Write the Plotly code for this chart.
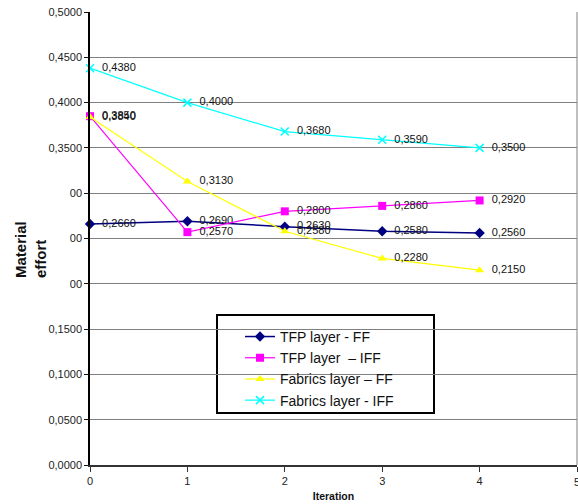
import plotly.graph_objects as go

iterations = [0, 1, 2, 3, 4]
tfp_ff = [0.2660, 0.2690, 0.2630, 0.2580, 0.2560]
tfp_iff = [0.3850, 0.2570, 0.2800, 0.2860, 0.2920]
fab_ff = [0.3840, 0.3130, 0.2580, 0.2280, 0.2150]
fab_iff = [0.4380, 0.4000, 0.3680, 0.3590, 0.3500]

series_names = ["TFP layer - FF", "TFP layer  \u2013 IFF", "Fabrics layer \u2013 FF", "Fabrics layer - IFF"]
series_colors = ["#000080", "#FF00FF", "#FFFF00", "#00FFFF"]
series_symbols = ["diamond", "square", "triangle-up", "x-thin"]

y_tickvals = [0.0, 0.05, 0.10, 0.15, 0.20, 0.25, 0.30, 0.35, 0.40, 0.45, 0.50]
y_ticktext = ["0,0000", "0,0500", "0,1000", "0,1500", "00", "00", "00", "0,3500", "0,4000", "0,4500", "0,5000"]
x_tickvals = [0, 1, 2, 3, 4]
x_last_tick = 5


def fmt(v):
    return f"{v:.4f}".replace(".", ",")


fig = go.Figure()
for name, vals, col, sym in zip(series_names, [tfp_ff, tfp_iff, fab_ff, fab_iff], series_colors, series_symbols):
    fig.add_trace(go.Scatter(
        x=iterations, y=vals, name=name, mode="lines+markers+text",
        line=dict(color=col, width=1.2 if col != "#000080" else 1.5),
        marker=dict(symbol=sym, size=8, color=col,
                    line=dict(color=col, width=1.5 if sym == "x-thin" else 0)),
        text=["  " + fmt(v) for v in vals], textposition="middle right",
        textfont=dict(family="Liberation Sans, Arial", size=11, color="#111111"),
        cliponaxis=False,
    ))

fig.update_layout(
    width=578, height=504,
    margin=dict(l=90, r=1, t=12, b=39),
    paper_bgcolor="white", plot_bgcolor="white",
    font=dict(family="Liberation Sans, Arial", size=11, color="#222222"),
    showlegend=True,
    legend=dict(x=0.308, y=0.318, xanchor="left", yanchor="top",
                bgcolor="rgba(0,0,0,0)", borderwidth=0,
                font=dict(size=14, color="#111111"), tracegroupgap=0),
    xaxis=dict(range=[0, 5], tickvals=x_tickvals + [x_last_tick], ticktext=[str(v) for v in x_tickvals] + [""],
               ticks="outside", ticklen=5,
               tickcolor="#333333", showgrid=False, zeroline=False,
               showline=True, linecolor="#333333", linewidth=2,
               mirror=False, tickfont=dict(size=11),
               title=dict(text="<b>Iteration</b>", font=dict(size=10.5, color="#111111"), standoff=6)),
    yaxis=dict(range=[0, 0.5], tickvals=y_tickvals, ticktext=y_ticktext, ticks="outside",
               ticklen=4, tickcolor="#111111", showgrid=True, gridcolor="#808080", gridwidth=1,
               zeroline=False, showline=True, linecolor="#000000", linewidth=1.5,
               tickfont=dict(size=11)),
    shapes=[
        dict(type="rect", xref="paper", yref="paper", x0=(217 - 90) / 487, x1=(434 - 90) / 487,
             y0=(465 - 413) / 453, y1=(465 - 315) / 453,
             line=dict(color="#000000", width=2), fillcolor="white", layer="below"),
        dict(type="line", xref="paper", yref="paper", x0=1, x1=1, y0=0, y1=1,
             line=dict(color="#808080", width=1)),
    ],
    annotations=[
        dict(text="<b>Material<br>effort</b>", xref="paper", yref="paper",
             x=-(90 - 30) / 487, y=(465 - 250) / 453, textangle=-90, showarrow=False,
             font=dict(size=15, color="#111111"), xanchor="center", yanchor="middle",
             align="left", bgcolor="white"),
        dict(text=str(x_last_tick), xref="x", yref="paper", x=x_last_tick, y=0, yshift=-9,
             showarrow=False, xanchor="center", yanchor="top",
             font=dict(size=11, color="#222222")),
    ],
)

fig.write_html("out.html")
